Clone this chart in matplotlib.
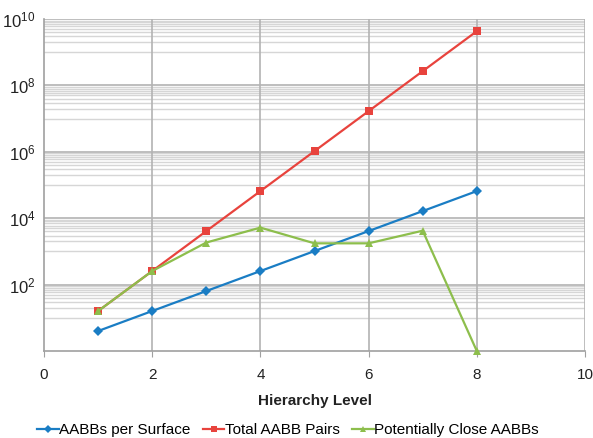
import math
import matplotlib
matplotlib.use("Agg")
import matplotlib.pyplot as plt
from matplotlib.ticker import FixedLocator, FuncFormatter, NullFormatter

plt.rcParams['font.family'] = ['Liberation Sans', 'DejaVu Sans']

levels = [1, 2, 3, 4, 5, 6, 7, 8]
aabbs_per_surface = [4, 16, 64, 256, 1024, 4096, 16384, 65536]
total_pairs = [16, 256, 4096, 65536, 1048576, 16777216, 268435456, 4294967296]
potentially_close = [16, 256, 1850, 5200, 1750, 1750, 4200, 1]

series_names = ["AABBs per Surface", "Total AABB Pairs", "Potentially Close AABBs"]
colors = ["#1A7DC4", "#E8433D", "#8DBE4C"]
markers = ["D", "s", "^"]
x_ticks = [0, 2, 4, 6, 8, 10]
y_major_exps = [0, 2, 4, 6, 8, 10]

fig = plt.figure(figsize=(5.93, 4.38), dpi=100)
ax = fig.add_axes([44/593, 1-351/438, (585-44)/593, (351-19)/438])
ax.set_yscale('log')
ax.set_xlim(0, 10)
ax.set_ylim(1, 1e10)

# grid lines
minor_vals = [k * 10**(e+1) for e in y_major_exps[:-1] for k in range(1, 10)]
for v in minor_vals:
    ax.axhline(v, color='#d6d6d6', lw=1.0, zorder=0)
for e in y_major_exps[1:]:
    ax.axhline(10**e, color='#b3b3b3', lw=1.2, zorder=0)
for xv in x_ticks[1:]:
    ax.axvline(xv, color='#b3b3b3', lw=1.2, zorder=0)

data = [aabbs_per_surface, total_pairs, potentially_close]
msizes = [5, 6, 6]
for vals, name, c, m, ms in zip(data, series_names, colors, markers, msizes):
    ax.plot(levels, vals, color=c, marker=m, markersize=ms, lw=1.6, label=name,
            markeredgewidth=0, clip_on=False, zorder=3)

ax.xaxis.set_major_locator(FixedLocator(x_ticks))
ax.yaxis.set_major_locator(FixedLocator([10.0**e for e in y_major_exps[1:]]))
ax.yaxis.set_minor_locator(FixedLocator([]))
ax.yaxis.set_minor_formatter(NullFormatter())
ax.yaxis.set_major_formatter(FuncFormatter(lambda v, p: r'$\mathregular{10^{%d}}$' % round(math.log10(v))))

ax.tick_params(axis='x', length=4, color='#a0a0a0', labelsize=11, pad=8, labelcolor='#222222')
ax.tick_params(axis='y', length=0, labelsize=12, pad=6, labelcolor='#222222')

for s in ['top', 'right']:
    ax.spines[s].set_visible(False)
for s in ['left', 'bottom']:
    ax.spines[s].set_color('#a0a0a0')
    ax.spines[s].set_linewidth(1.2)

ax.set_xlabel("Hierarchy Level", fontsize=11, fontweight='bold', color='#222222')
ax.xaxis.set_label_coords(0.5, -0.13)

fig.legend(loc='center', bbox_to_anchor=(288/593, 1-430/438), ncol=3, frameon=False,
           fontsize=11, handlelength=1.4, handletextpad=0.05, columnspacing=0.8,
           markerscale=0.8)

fig.savefig("out.png", dpi=100)
